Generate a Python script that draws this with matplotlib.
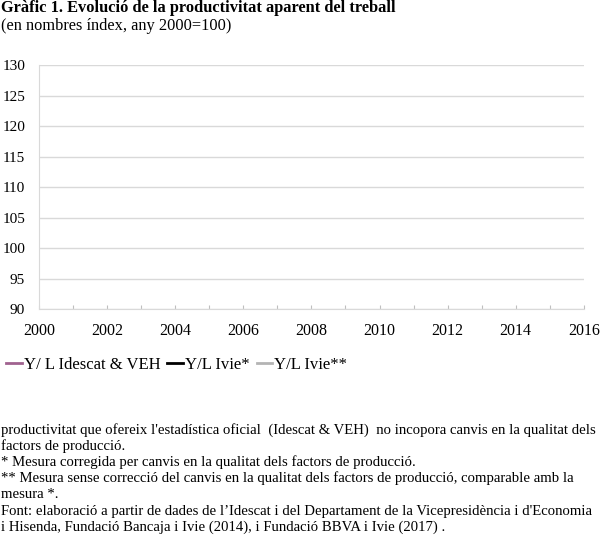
import matplotlib
matplotlib.use("Agg")
import matplotlib.pyplot as plt

plt.rcParams['font.family'] = ['Liberation Serif', 'DejaVu Serif']

# years shown on the axis and the (empty) series as they appear in the source
years = list(range(2000, 2017))
year_labels = [str(y) if y % 2 == 0 else "" for y in years]
y_ticks = [90, 95, 100, 105, 110, 115, 120, 125, 130]

series_names = ["Y/ L Idescat & VEH", "Y/L Ivie*", "Y/L Ivie**"]
series_colors = ["#a0628f", "#000000", "#b4b4b4"]
series_years = [[], [], []]
series_values = [[], [], []]

title = "Gràfic 1. Evolució de la productivitat aparent del treball"
subtitle = "(en nombres índex, any 2000=100)"
notes = [
    "productivitat que ofereix l'estadística oficial  (Idescat & VEH)  no incopora canvis en la qualitat dels",
    "factors de producció.",
    "* Mesura corregida per canvis en la qualitat dels factors de producció.",
    "** Mesura sense correcció del canvis en la qualitat dels factors de producció, comparable amb la",
    "mesura *.",
    "Font: elaboració a partir de dades de l\u2019Idescat i del Departament de la Vicepresidència i d'Economia",
    "i Hisenda, Fundació Bancaja i Ivie (2014), i Fundació BBVA i Ivie (2017) .",
]

fig = plt.figure(figsize=(6.0, 5.36), dpi=100)
ax = fig.add_axes([0.065, 0.4235, 0.908, 0.4552])

for name, col, xs, vals in zip(series_names, series_colors, series_years, series_values):
    ax.plot(xs, vals, color=col, lw=2, label=name)

ax.set_xlim(2000, 2016)
ax.set_ylim(90, 130)
ax.set_yticks(y_ticks)
ax.set_xticks(years)
ax.set_xticklabels(year_labels)
ax.grid(axis='y', color='#d9d9d9', lw=1)
ax.set_axisbelow(True)
for s in ['top', 'right']:
    ax.spines[s].set_visible(False)
ax.spines['left'].set_color('#d9d9d9')
ax.spines['bottom'].set_color('#d9d9d9')
ax.tick_params(axis='y', length=0, pad=10, labelsize=11)
ax.tick_params(axis='x', direction='in', length=3, color='#bfbfbf', pad=10, labelsize=11.5)

fig.text(0.002, 1 - 8.5 / 536, title, fontsize=11.8, fontweight='bold', va='center', ha='left')
fig.text(0.002, 1 - 25.5 / 536, subtitle, fontsize=11.8, va='center', ha='left')

fig.legend(loc='center left', bbox_to_anchor=(0.004, 1 - 365 / 536), ncol=3, frameon=False,
           fontsize=12, handlelength=0.95, handletextpad=0.12, columnspacing=0.42,
           borderaxespad=0, borderpad=0.2)

y0 = 1 - 430 / 536
step = 16.2 / 536
for i, line in enumerate(notes):
    fig.text(0.002, y0 - i * step, line, fontsize=10.65, va='center', ha='left')

fig.savefig("out.png", dpi=100)
